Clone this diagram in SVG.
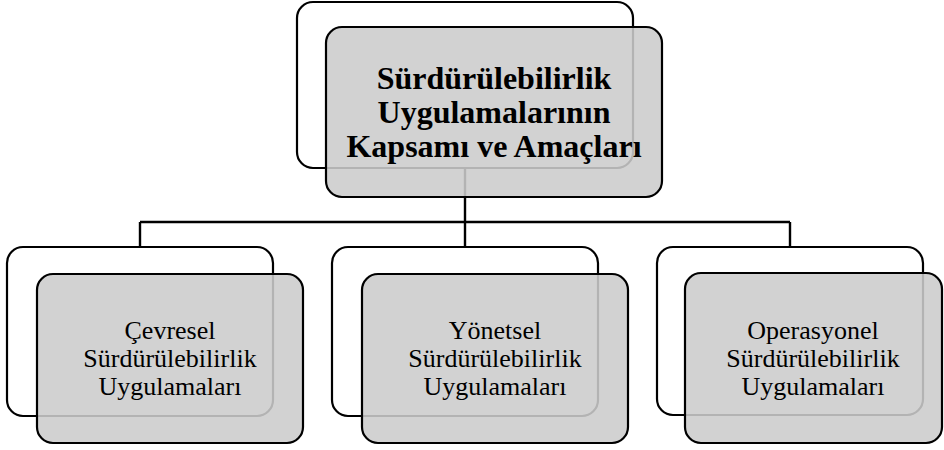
<svg xmlns="http://www.w3.org/2000/svg" width="944" height="450" viewBox="0 0 944 450">
<style>
.back{fill:#ffffff;stroke:#000;stroke-width:2.2}
.front{fill:#cccccc;fill-opacity:0.88;stroke:#000;stroke-width:2.2}
.conn{fill:none;stroke:#000;stroke-width:2.4}
.t{font-family:"Liberation Serif","Times New Roman",serif;text-anchor:middle;fill:#000}
.title{font-size:32px;font-weight:bold}
.sub{font-size:26px}
</style>
<rect width="944" height="450" fill="#fff"/>
<g id="connectors">
<path class="conn" d="M465,168 V222 M140,222 H790 M140,222 V247 M465,222 V247 M790,222 V247"/>
</g>
<g id="root">
<rect class="back" x="297" y="2" width="336" height="166" rx="16"/>
<rect class="front" x="326" y="27" width="336" height="170" rx="16"/>
<text class="t title" x="494" y="89">Sürdürülebilirlik</text>
<text class="t title" x="494" y="123">Uygulamalarının</text>
<text class="t title" x="494" y="157">Kapsamı ve Amaçları</text>
</g>
<g id="cevresel">
<rect class="back" x="7" y="247" width="266" height="169" rx="16"/>
<rect class="front" x="37" y="274" width="266" height="169" rx="16"/>
<text class="t sub" x="170" y="339">Çevresel</text>
<text class="t sub" x="170" y="367">Sürdürülebilirlik</text>
<text class="t sub" x="170" y="395">Uygulamaları</text>
</g>
<g id="yonetsel">
<rect class="back" x="332" y="247" width="266" height="169" rx="16"/>
<rect class="front" x="362" y="274" width="266" height="169" rx="16"/>
<text class="t sub" x="495" y="339">Yönetsel</text>
<text class="t sub" x="495" y="367">Sürdürülebilirlik</text>
<text class="t sub" x="495" y="395">Uygulamaları</text>
</g>
<g id="operasyonel">
<rect class="back" x="657" y="247" width="266" height="168" rx="16"/>
<rect class="front" x="685" y="273" width="257" height="170" rx="16"/>
<text class="t sub" x="813" y="339">Operasyonel</text>
<text class="t sub" x="813" y="367">Sürdürülebilirlik</text>
<text class="t sub" x="813" y="395">Uygulamaları</text>
</g>
</svg>
